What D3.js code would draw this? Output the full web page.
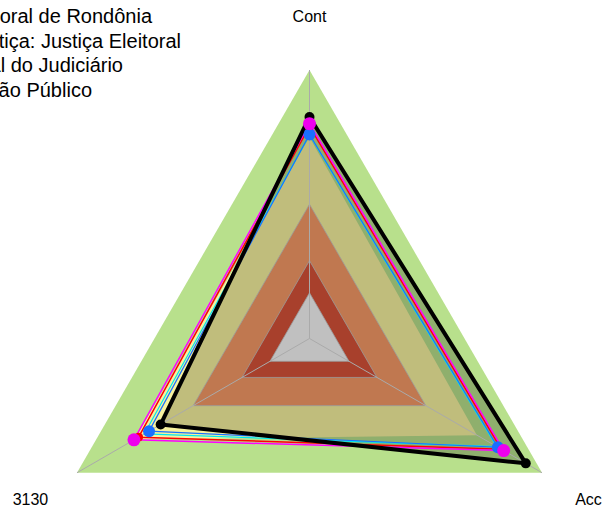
<!DOCTYPE html>
<html lang="en">
<head>
    <meta charset="utf-8">
    <title>Radar</title>
    <script src="https://cdn.jsdelivr.net/npm/d3@7"></script>
    <style>
        body{
            margin: 0;
            background: #fff;
        }
        text{
            font-family: "Liberation Sans", Arial, sans-serif;
            fill: #000;
        }
        text.axisLabel{
            font-size: 16px;
        }
        text.legendLabel{
            font-size: 20px;
        }
    </style>
</head>
<body>
    <div id="my_dataviz"></div>

    <script>

    // axes of the radar (clockwise from the top)
    var axes = ["Cont", "Acc", "3130"]

    // background bands (outer to inner)
    var levels = [1.0, 0.5, 0.29, 0.17]
    var levelColors = ["#b8e08c", "#c07850", "#a8402c", "#c0c0c0"]

    // series values, in the order of axes
    var seriesBlack   = [0.825, 0.93, 0.64]
    var seriesYellow  = [0.75, 0.72, 0.752]
    var seriesMagenta = [0.80, 0.835, 0.755]
    var seriesRed     = [0.79, 0.825, 0.735]
    var seriesCyan    = [0.758, 0.805, 0.71]
    var seriesBlue    = [0.76, 0.81, 0.69]

    // legend lines (cut off by the left border in the original)
    var legendLabels = [
        "Tribunal Regional Eleitoral de Rondônia",
        "Média do Segmento de Justiça: Justiça Eleitoral",
        "Média Nacional do Judiciário",
        "Média da Gestão Público"
    ]
    var legendEnds = [152, 181, 123, 92]

    var width = 604
    var height = 512
    var cx = 309.5, cy = 338.5, R = 268.5

    var svg = d3.select("#my_dataviz")
      .append("svg")
        .attr("width", width)
        .attr("height", height)

    var r = d3.scaleLinear().domain([0, 1]).range([0, R])
    var angle = d3.scalePoint().domain(axes).range([-Math.PI / 2, -Math.PI / 2 + 2 * Math.PI * 2 / 3])

    function px(axis, v){ return cx + r(v) * Math.cos(angle(axis)) }
    function py(axis, v){ return cy + r(v) * Math.sin(angle(axis)) }

    var radarLine = d3.line()
        .x((d, i) => px(axes[i], d))
        .y((d, i) => py(axes[i], d))
        .curve(d3.curveLinearClosed)

    function flat(v){ return axes.map(() => v) }

    // outer green band
    svg.append("path")
        .attr("d", radarLine(flat(levels[0])))
        .attr("fill", levelColors[0])

    // polygon fills that tint the green band
    svg.append("path")
        .attr("d", radarLine(seriesYellow))
        .attr("fill", "#faf2a0")
        .attr("fill-opacity", 0.95)

    svg.append("path")
        .attr("d", radarLine(seriesBlack))
        .attr("fill", "#000")
        .attr("fill-opacity", 0.22)

    // inner bands
    svg.append("g")
      .selectAll("path")
      .data(levels.slice(1))
      .enter()
      .append("path")
        .attr("d", d => radarLine(flat(d)))
        .attr("fill", (d, i) => levelColors[i + 1])
        .attr("stroke", "#9a9a9a")
        .attr("stroke-width", 0.8)

    // spokes
    svg.append("g")
      .selectAll("line")
      .data(axes)
      .enter()
      .append("line")
        .attr("x1", cx)
        .attr("y1", cy)
        .attr("x2", d => px(d, 1))
        .attr("y2", d => py(d, 1))
        .attr("stroke", "#aaaaaa")
        .attr("stroke-width", 1)

    // series lines
    var series = [
        {values: seriesCyan,    color: "#00e8f0", width: 1.2},
        {values: seriesRed,     color: "#ff0000", width: 1.5},
        {values: seriesMagenta, color: "#ff00ff", width: 1.5},
        {values: seriesBlue,    color: "#1a6fff", width: 1.2},
        {values: seriesBlack,   color: "#000000", width: 4}
    ]

    svg.append("g")
      .selectAll("path")
      .data(series)
      .enter()
      .append("path")
        .attr("d", d => radarLine(d.values))
        .attr("fill", "none")
        .attr("stroke", d => d.color)
        .attr("stroke-width", d => d.width)
        .attr("stroke-linejoin", "round")

    // markers (blue and magenta on top)
    var dotSeries = [
        {values: seriesBlack,   color: "#000000", dot: 5},
        {values: seriesRed,     color: "#ff0000", dot: 4.5},
        {values: seriesBlue,    color: "#1a6fff", dot: 6},
        {values: seriesMagenta, color: "#ee00ee", dot: 6.5}
    ]

    dotSeries.forEach(function(s){
        svg.append("g")
          .selectAll("circle")
          .data(s.values)
          .enter()
          .append("circle")
            .attr("cx", (d, i) => px(axes[i], d))
            .attr("cy", (d, i) => py(axes[i], d))
            .attr("r", s.dot)
            .attr("fill", s.color)
    })

    // axis labels
    svg.append("g")
      .selectAll("text")
      .data(axes)
      .enter()
      .append("text")
        .attr("class", "axisLabel")
        .attr("x", d => px(d, 1.2))
        .attr("y", d => py(d, 1.2))
        .attr("text-anchor", "middle")
        .attr("dy", "0.35em")
        .text(d => d)

    // legend
    svg.append("g")
      .selectAll("text")
      .data(legendLabels)
      .enter()
      .append("text")
        .attr("class", "legendLabel")
        .attr("x", (d, i) => legendEnds[i])
        .attr("y", (d, i) => 23 + i * 24.7)
        .attr("text-anchor", "end")
        .text(d => d)

    </script>
</body>
</html>
